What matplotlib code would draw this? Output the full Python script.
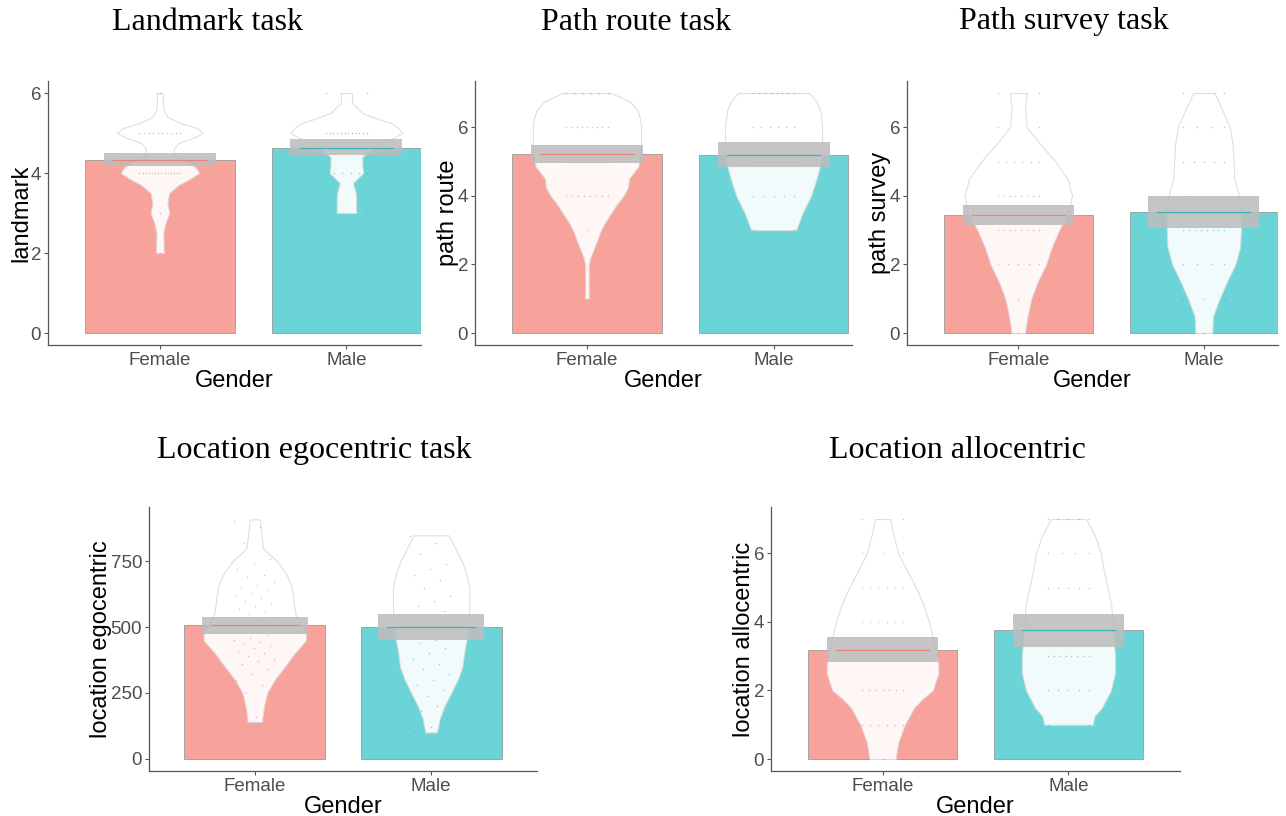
import numpy as np
import matplotlib.pyplot as plt

plt.rcParams['font.family'] = ['Liberation Sans', 'DejaVu Sans']

groups = ['Female', 'Male']
bar_colors = ['#f7a29a', '#6bd4d7']
line_colors = ['#e8837a', '#3fb4b8']
point_colors = ['#d9827a', '#4aa9ad']

# ---- landmark ----
landmark_mean = [4.32, 4.63]
landmark_ci = [(4.17, 4.49), (4.44, 4.84)]
landmark_f_y = [2, 2.25, 2.5, 2.75, 3, 3.25, 3.5, 3.7, 3.85, 4, 4.15, 4.3, 4.45, 4.6, 4.75, 4.9, 5, 5.12, 5.25, 5.4, 5.55, 5.75, 6]
landmark_f_w = [0.02, 0.02, 0.018, 0.03, 0.05, 0.04, 0.05, 0.1, 0.16, 0.21, 0.19, 0.13, 0.075, 0.075, 0.1, 0.19, 0.23, 0.2, 0.11, 0.04, 0.022, 0.016, 0.016]
landmark_m_y = [3, 3.25, 3.5, 3.75, 4, 4.2, 4.4, 4.55, 4.7, 4.85, 5, 5.12, 5.25, 5.4, 5.5, 5.75, 6]
landmark_m_w = [0.052, 0.052, 0.05, 0.035, 0.09, 0.085, 0.085, 0.12, 0.18, 0.24, 0.3, 0.28, 0.24, 0.14, 0.085, 0.03, 0.03]
landmark_levels = [[2, 3, 4, 5, 6], [3, 4, 5, 6]]
landmark_counts = [[1, 3, 14, 10, 1], [2, 6, 12, 2]]

# ---- path route ----
route_mean = [5.22, 5.20]
route_ci = [(4.95, 5.47), (4.85, 5.56)]
route_f_y = [1, 1.5, 2, 2.2, 2.5, 3, 3.25, 3.5, 3.75, 4, 4.25, 4.5, 4.85, 5.2, 5.5, 5.75, 6, 6.25, 6.5, 6.75, 7]
route_f_w = [0.01, 0.009, 0.01, 0.018, 0.04, 0.075, 0.1, 0.13, 0.16, 0.195, 0.22, 0.225, 0.275, 0.285, 0.29, 0.29, 0.29, 0.285, 0.27, 0.23, 0.13]
route_m_y = [3, 3.5, 4, 4.5, 4.8, 5.2, 5.5, 6, 6.5, 6.75, 7]
route_m_w = [0.12, 0.155, 0.2, 0.23, 0.245, 0.255, 0.26, 0.26, 0.25, 0.23, 0.19]
route_levels = [[1, 3, 4, 5, 6, 7], [3, 4, 5, 6, 7]]
route_counts = [[1, 3, 8, 12, 9, 6], [2, 5, 10, 6, 8]]

# ---- path survey ----
survey_mean = [3.44, 3.53]
survey_ci = [(3.14, 3.74), (3.07, 4.01)]
survey_f_y = [0, 0.5, 1, 1.5, 2, 2.5, 3, 3.5, 4, 4.5, 5, 5.5, 6, 6.5, 7]
survey_f_w = [0.036, 0.05, 0.07, 0.105, 0.15, 0.18, 0.22, 0.27, 0.29, 0.265, 0.2, 0.12, 0.045, 0.036, 0.045]
survey_m_y = [0, 0.5, 1, 1.5, 2, 2.5, 3, 3.5, 4, 4.5, 5, 5.5, 6, 6.5, 7]
survey_m_w = [0.045, 0.05, 0.085, 0.125, 0.17, 0.195, 0.2, 0.2, 0.19, 0.165, 0.16, 0.155, 0.14, 0.1, 0.058]
survey_levels = [[0, 1, 2, 3, 4, 5, 6, 7], [0, 1, 2, 3, 4, 5, 6, 7]]
survey_counts = [[1, 3, 5, 8, 8, 6, 2, 2], [1, 3, 4, 8, 6, 5, 4, 2]]

# ---- location egocentric ----
ego_mean = [507, 501]
ego_ci = [(475, 540), (450, 550)]
ego_f_y = [140, 150, 200, 250, 300, 350, 400, 450, 475, 510, 550, 600, 650, 700, 750, 800, 850, 910]
ego_f_w = [0.042, 0.042, 0.052, 0.07, 0.113, 0.17, 0.225, 0.29, 0.29, 0.26, 0.23, 0.22, 0.21, 0.18, 0.127, 0.047, 0.038, 0.028]
ego_m_y = [100, 150, 200, 250, 300, 350, 400, 450, 500, 550, 600, 650, 700, 750, 800, 849]
ego_m_w = [0.033, 0.047, 0.075, 0.113, 0.15, 0.177, 0.186, 0.2, 0.21, 0.215, 0.217, 0.217, 0.2, 0.175, 0.137, 0.1]
ego_f_points = [905, 880, 820, 760, 740, 720, 700, 690, 670, 660, 650, 640, 630, 620, 610, 600,
                590, 580, 570, 560, 550, 540, 530, 520, 515, 510, 505, 500, 495, 490, 485, 480,
                470, 460, 450, 445, 440, 430, 420, 410, 400, 390, 380, 370, 360, 340, 320, 300,
                280, 250, 210, 160, 140]
ego_m_points = [845, 820, 780, 740, 720, 700, 680, 650, 620, 600, 580, 560, 550, 540, 530, 520,
                510, 500, 490, 480, 470, 460, 450, 440, 420, 400, 380, 360, 340, 320, 300, 280,
                260, 240, 220, 200, 180, 150, 120, 100]

# ---- location allocentric ----
allo_mean = [3.19, 3.75]
allo_ci = [(2.84, 3.56), (3.27, 4.24)]
allo_f_y = [0, 0.5, 1, 1.5, 1.75, 2, 2.5, 2.75, 3.2, 4, 4.5, 5, 5.5, 6, 6.5, 7]
allo_f_w = [0.07, 0.085, 0.12, 0.17, 0.215, 0.27, 0.3, 0.3, 0.285, 0.25, 0.22, 0.18, 0.13, 0.085, 0.06, 0.04]
allo_m_y = [1, 1.25, 1.5, 2, 2.5, 3, 3.75, 4.5, 5, 5.5, 6, 6.5, 7]
allo_m_w = [0.13, 0.14, 0.18, 0.228, 0.25, 0.25, 0.24, 0.23, 0.21, 0.19, 0.175, 0.143, 0.094]
allo_levels = [[0, 1, 2, 3, 4, 5, 6, 7], [1, 2, 3, 4, 5, 6, 7]]
allo_counts = [[1, 6, 7, 8, 6, 6, 3, 2], [2, 5, 8, 7, 5, 4, 5]]

titles = ['Landmark task', 'Path route task', 'Path survey task',
          'Location egocentric task', 'Location allocentric']
title_pos = [(207, 22), (636, 22), (1064, 22), (314, 450), (957, 450)]


def level_points(levels, counts):
    ys, xs = [], []
    for lv, n in zip(levels, counts):
        ys += [lv] * n
        xs += list(np.linspace(-0.11, 0.11, n)) if n > 1 else [0.0]
    return np.array(xs), np.array(ys)


def spread_points(values):
    # golden-ratio offsets so the dots scatter sideways without lining up
    n = len(values)
    xs = (np.arange(n) * 0.618034 % 1.0 - 0.5) * 0.24
    return xs, np.array(values)


def pirate(ax, means, cis, shapes, points, ylabel, ylim, yticks, xmax):
    for i in range(2):
        c = i + 1
        ax.bar(c, means[i], width=0.8, color=bar_colors[i], edgecolor='#9a9a9a',
               linewidth=0.6, zorder=1)
        vy, vw = np.array(shapes[i][0]), np.array(shapes[i][1])
        ax.fill_betweenx(vy, c - vw, c + vw, facecolor='white', alpha=0.92,
                         edgecolor='#dcdcdc', linewidth=0.8, zorder=2)
        px, py = points[i]
        ax.scatter(c + px, py, s=1.2, color=point_colors[i], alpha=0.55,
                   linewidths=0, zorder=3)
        lo, hi = cis[i]
        ax.fill_between([c - 0.3, c + 0.3], lo, hi, facecolor='#bdbdbd',
                        alpha=0.88, linewidth=0, zorder=4)
        ax.plot([c - 0.25, c + 0.25], [means[i]] * 2, color=line_colors[i],
                linewidth=0.9, zorder=5)
    ax.set_xlim(0.4, xmax)
    ax.set_ylim(*ylim)
    ax.set_yticks(yticks)
    ax.set_xticks([1, 2])
    ax.set_xticklabels(groups)
    ax.set_xlabel('Gender', fontsize=17, labelpad=1)
    ax.set_ylabel(ylabel, fontsize=17, labelpad=-1)
    for s in ['top', 'right']:
        ax.spines[s].set_visible(False)
    for s in ['left', 'bottom']:
        ax.spines[s].set_color('#555555')
        ax.spines[s].set_linewidth(0.9)
    ax.tick_params(colors='#555555', labelcolor='#4d4d4d', labelsize=13.5,
                   length=3, width=0.8, pad=2)


W, H = 1286, 816
fig = plt.figure(figsize=(W / 100, H / 100), dpi=100)


def add_axes(left, right, top, bottom):
    return fig.add_axes([left / W, 1 - bottom / H, (right - left) / W, (bottom - top) / H])


ax1 = add_axes(48, 421, 81, 345)
ax2 = add_axes(475, 852, 81, 345)
ax3 = add_axes(907, 1278, 81, 345)
ax4 = add_axes(149, 537, 507, 771)
ax5 = add_axes(771, 1180, 507, 771)

pirate(ax1, landmark_mean, landmark_ci,
       [(landmark_f_y, landmark_f_w), (landmark_m_y, landmark_m_w)],
       [level_points(landmark_levels[0], landmark_counts[0]),
        level_points(landmark_levels[1], landmark_counts[1])],
       'landmark', (-0.3, 6.3), [0, 2, 4, 6], 2.4)
pirate(ax2, route_mean, route_ci,
       [(route_f_y, route_f_w), (route_m_y, route_m_w)],
       [level_points(route_levels[0], route_counts[0]),
        level_points(route_levels[1], route_counts[1])],
       'path route', (-0.35, 7.35), [0, 2, 4, 6], 2.42)
pirate(ax3, survey_mean, survey_ci,
       [(survey_f_y, survey_f_w), (survey_m_y, survey_m_w)],
       [level_points(survey_levels[0], survey_counts[0]),
        level_points(survey_levels[1], survey_counts[1])],
       'path survey', (-0.35, 7.35), [0, 2, 4, 6], 2.4)
pirate(ax4, ego_mean, ego_ci,
       [(ego_f_y, ego_f_w), (ego_m_y, ego_m_w)],
       [spread_points(ego_f_points), spread_points(ego_m_points)],
       'location egocentric', (-47, 957), [0, 250, 500, 750], 2.6)
pirate(ax5, allo_mean, allo_ci,
       [(allo_f_y, allo_f_w), (allo_m_y, allo_m_w)],
       [level_points(allo_levels[0], allo_counts[0]),
        level_points(allo_levels[1], allo_counts[1])],
       'location allocentric', (-0.35, 7.35), [0, 2, 4, 6], 2.6)

for t, (x, y) in zip(titles, title_pos):
    fig.text(x / W, 1 - y / H, t, ha='center', va='center', fontsize=23,
             family=['Liberation Serif', 'DejaVu Serif'])

fig.savefig('out.png', dpi=100)
